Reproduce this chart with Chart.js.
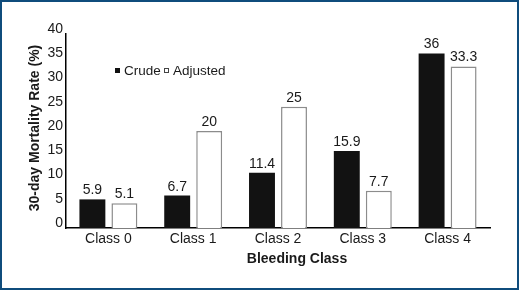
<!DOCTYPE html>
<html>
<head>
<meta charset="utf-8">
<script src="https://cdn.jsdelivr.net/npm/chart.js@4/dist/chart.umd.min.js"></script>
<style>
  html, body { margin: 0; padding: 0; background: #fff; }
  #wrap { width: 519px; height: 290px; box-sizing: border-box; border: 2px solid #0f4c7c; background: #fff; }
  canvas { display: block; }
</style>
</head>
<body>
<div id="wrap"><canvas id="c" width="515" height="286"></canvas></div>
<script>
const categories = ['Class 0', 'Class 1', 'Class 2', 'Class 3', 'Class 4'];
const crude = [5.9, 6.7, 11.4, 15.9, 36];
const adjusted = [5.1, 20, 25, 7.7, 33.3];
const seriesNames = ['Crude', 'Adjusted'];
const yTicks = [0, 5, 10, 15, 20, 25, 30, 35, 40];
const xTitle = 'Bleeding Class';
const yTitle = '30-day Mortality Rate (%)';

const FONT = '"Liberation Sans", Arial, sans-serif';
const TXT = '#1a1a1a';

const overlay = {
  id: 'overlay',
  afterDatasetsDraw(chart) {
    const ctx = chart.ctx;
    ctx.save();
    // data labels
    ctx.font = '14px ' + FONT;
    ctx.fillStyle = TXT;
    ctx.textAlign = 'center';
    ctx.textBaseline = 'alphabetic';
    chart.data.datasets.forEach((ds, i) => {
      const meta = chart.getDatasetMeta(i);
      meta.data.forEach((bar, j) => {
        ctx.fillText(String(ds.data[j]), bar.x, bar.y - 5);
      });
    });
    // legend
    ctx.textAlign = 'left';
    ctx.textBaseline = 'middle';
    ctx.font = '13.5px ' + FONT;
    ctx.fillStyle = '#111';
    ctx.fillRect(113, 66, 5, 5);
    ctx.fillStyle = TXT;
    const t0 = chart.data.datasets[0].label;
    ctx.fillText(t0, 122, 69);
    const sx = 122 + ctx.measureText(t0).width + 3;
    ctx.strokeStyle = '#444';
    ctx.lineWidth = 1;
    ctx.strokeRect(Math.round(sx) + 0.5, 66.5, 4, 4);
    ctx.fillText(chart.data.datasets[1].label, Math.round(sx) + 9, 69);
    // axis titles
    ctx.font = 'bold 14px ' + FONT;
    ctx.textAlign = 'center';
    ctx.textBaseline = 'middle';
    ctx.fillText(xTitle, 295, 257);
    ctx.translate(33, 126);
    ctx.rotate(-Math.PI / 2);
    ctx.fillText(yTitle, 0, 0);
    ctx.restore();
  }
};

new Chart(document.getElementById('c'), {
  type: 'bar',
  data: {
    labels: categories,
    datasets: [
      { label: seriesNames[0], data: crude, backgroundColor: '#121212', borderWidth: 0,
        categoryPercentage: 0.755, barPercentage: 0.81 },
      { label: seriesNames[1], data: adjusted, backgroundColor: '#ffffff', borderColor: '#8c8c8c', borderWidth: 1.5,
        categoryPercentage: 0.755, barPercentage: 0.81 }
    ]
  },
  options: {
    responsive: false,
    devicePixelRatio: 1,
    animation: false,
    layout: { padding: { left: 0, right: 27, top: 32, bottom: 0 } },
    plugins: { legend: { display: false }, tooltip: { enabled: false } },
    scales: {
      x: {
        grid: { display: false, drawTicks: false },
        border: { display: true, color: '#000', width: 1.5 },
        ticks: { color: TXT, font: { family: FONT, size: 14 }, padding: 3, maxRotation: 0 },
        afterFit(s) { s.height = 60; }
      },
      y: {
        min: 0, max: 40,
        grid: { display: false, drawTicks: false },
        border: { display: true, color: '#000', width: 1.5 },
        afterBuildTicks(s) { s.ticks = yTicks.map(v => ({ value: v })); },
        ticks: { color: TXT, font: { family: FONT, size: 14 }, padding: 3, labelOffset: -5 },
        afterFit(s) { s.width = 64; }
      }
    }
  },
  plugins: [overlay]
});
</script>
</body>
</html>
